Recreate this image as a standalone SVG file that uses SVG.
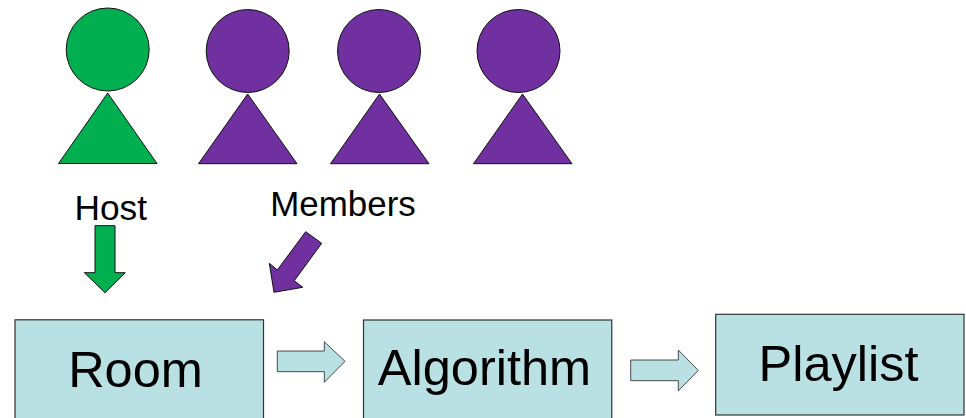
<svg xmlns="http://www.w3.org/2000/svg" width="966" height="418" viewBox="0 0 966 418">
<style>
.s{stroke:#111;stroke-width:1;stroke-linejoin:miter}
.g{fill:#00b050}
.p{fill:#7030a0}
.b{fill:#b9e0e3;stroke:#333;stroke-width:1.2}
.a{fill:#b9e0e3;stroke:#222;stroke-width:.8}
text{font-family:"Liberation Sans",Arial,sans-serif;fill:#000}
.l{font-size:50.5px;text-anchor:middle}
</style>
<rect width="966" height="418" fill="#fff"/>
<g id="host"><circle class="s g" cx="107.7" cy="49.5" r="41.5"/><polygon class="s g" points="107.7,93 157,163.5 58.5,163.5"/></g>
<g id="member-1"><circle class="s p" cx="247.7" cy="51" r="41.5"/><polygon class="s p" points="247.7,94 297,163.7 198.5,163.7"/></g>
<g id="member-2"><circle class="s p" cx="379" cy="51" r="41.5"/><polygon class="s p" points="379.5,94 429,163.7 330.5,163.7"/></g>
<g id="member-3"><circle class="s p" cx="518.5" cy="51" r="41.5"/><polygon class="s p" points="522.5,94 572,163.7 473.5,163.7"/></g>
<g id="host-label"><text x="74.5" y="220" font-size="35.3">Host</text></g>
<g id="members-label"><text x="270.3" y="216" font-size="34.9">Members</text></g>
<g id="room"><rect class="b" x="15" y="319.8" width="248.5" height="110"/><text class="l" x="135.5" y="386.5">Room</text></g>
<g id="algorithm"><rect class="b" x="363.5" y="320" width="248.3" height="110"/><text class="l" x="484.5" y="384.5">Algorithm</text></g>
<g id="playlist"><rect class="b" x="715.7" y="314.3" width="248.3" height="100.7"/><text class="l" x="838.5" y="380.5">Playlist</text></g>
<g id="connectors">
<polygon class="s g" points="95,225.7 115,225.7 115,272.7 125.3,272.7 105,292.7 84.3,272.7 95,272.7"/>
<polygon class="s p" points="305.7,231.7 321.7,243.3 294.3,280.7 302.7,287.3 274,292.3 269.3,263.3 277.3,270"/>
<polygon class="a" points="277.3,351 324.3,351 324.3,341.7 345,361.3 324.3,382.3 324.3,371.7 277.3,371.7"/>
<polygon class="a" points="630.7,360 678.3,360 678.3,350 698.3,370.5 678.3,390.7 678.3,380.7 630.7,380.7"/>
</g>
</svg>
